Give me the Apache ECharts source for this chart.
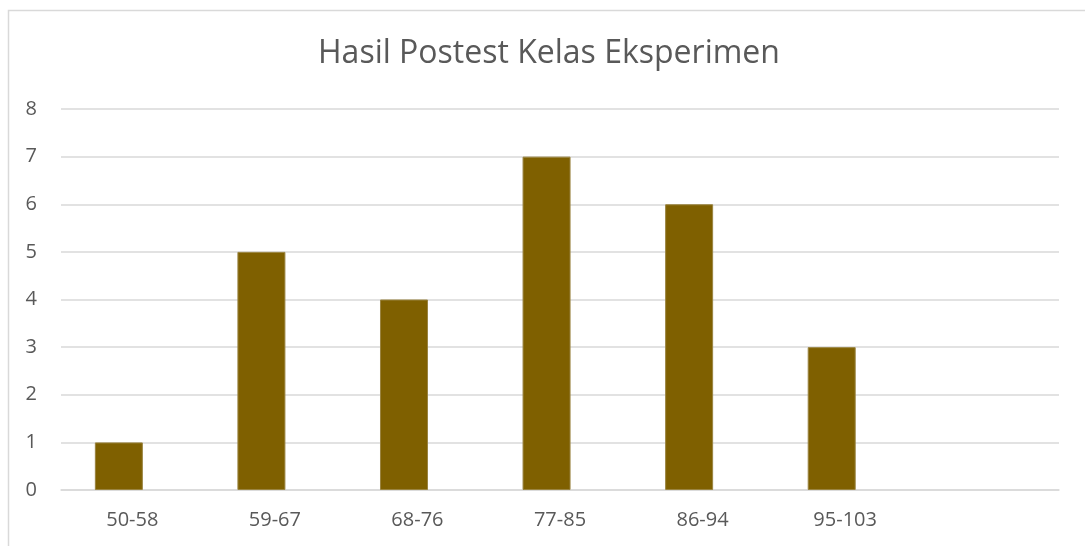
<!DOCTYPE html>
<html>
<head>
<meta charset="utf-8">
<script src="https://cdn.jsdelivr.net/npm/echarts@6/dist/echarts.min.js"></script>
<style>
  html, body { margin: 0; padding: 0; background: #fff; }
  #chart { width: 1085px; height: 546px; }
</style>
</head>
<body>
<div id="chart"></div>
<script>
// kategori nilai (slot terakhir kosong, seperti di grafik asli)
var categories = ['50-58', '59-67', '68-76', '77-85', '86-94', '95-103', ''];
var frekuensi = [1, 5, 4, 7, 6, 3, null];
var kosong = [null, null, null, null, null, null, null];
var yTicks = { min: 0, max: 8, interval: 1 };

var textColor = '#595959';
var fontFamily = 'Open Sans, Noto Sans, sans-serif';

var chart = echarts.init(document.getElementById('chart'));

chart.setOption({
  animation: false,
  title: {
    text: 'Hasil Postest Kelas Eksperimen',
    left: 313,
    top: 33,
    textStyle: {
      color: textColor,
      fontFamily: fontFamily,
      fontSize: 32,
      fontWeight: 'normal'
    }
  },
  graphic: [{
    type: 'rect',
    shape: { x: 8.5, y: 10.5, width: 1200, height: 600 },
    style: { fill: 'none', stroke: '#d9d9d9', lineWidth: 1.5 },
    silent: true
  }],
  grid: {
    left: 61,
    right: 26,
    top: 109,
    bottom: 56
  },
  xAxis: {
    type: 'category',
    data: categories,
    axisLine: { lineStyle: { color: '#d9d9d9', width: 1.5 } },
    axisTick: { show: false },
    axisLabel: {
      color: textColor,
      fontFamily: fontFamily,
      fontSize: 20,
      margin: 20,
      interval: 0
    }
  },
  yAxis: {
    type: 'value',
    min: yTicks.min,
    max: yTicks.max,
    interval: yTicks.interval,
    axisLine: { show: false },
    axisTick: { show: false },
    axisLabel: {
      color: textColor,
      fontFamily: fontFamily,
      fontSize: 20,
      margin: 24
    },
    splitLine: { lineStyle: { color: '#d9d9d9', width: 1.5 } }
  },
  series: [{
    type: 'bar',
    data: frekuensi,
    barWidth: 48,
    barGap: '-44%',
    itemStyle: { color: '#7f6000', borderColor: '#9a8440', borderWidth: 1 }
  }, {
    type: 'bar',
    data: kosong,
    barWidth: 48
  }]
});
</script>
</body>
</html>
